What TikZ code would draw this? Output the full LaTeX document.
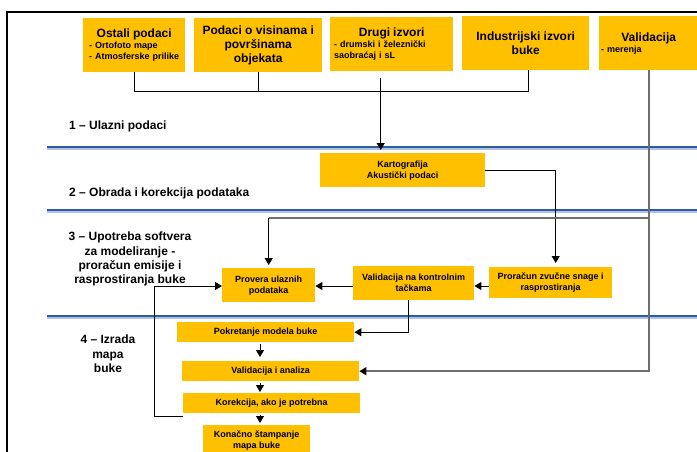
\documentclass[tikz,border=0pt]{standalone}
\usepackage{fontspec}
\setmainfont{Liberation Sans}
\usetikzlibrary{arrows.meta}

\definecolor{boxgold}{RGB}{255,192,0}
\definecolor{bandblue}{RGB}{44,93,164}
\definecolor{bandshade}{RGB}{175,195,225}
\definecolor{linkgray}{RGB}{110,110,110}

\newcommand{\bigtxt}{\fontsize{12}{14.3}\selectfont}
\newcommand{\smalltxt}{\fontsize{9}{11}\selectfont}

\begin{document}
\begin{tikzpicture}[x=1pt, y=-1pt,
  box/.style={fill=boxgold, draw=none, anchor=north west, inner sep=0pt,
              align=center, font=\bfseries\smalltxt},
  bigbox/.style={box, font=\bfseries\bigtxt},
  listbox/.style={box, align=left, text width=#1},
  sect/.style={font=\bfseries\bigtxt, inner sep=0pt},
  link/.style={line width=1pt, black},
  arr/.style={link, -{Triangle[length=7pt,width=8pt]}},
  glink/.style={line width=1.6pt, linkgray},
  garr/.style={glink, -{Triangle[length=7pt,width=8pt,color=black]}}
]
\useasboundingbox (0,0) rectangle (697,452);
\clip (0,0) rectangle (697,452);

% outer frame
\draw[line width=2pt] (7,470) -- (7,12) -- (710,12);

% section separators
\foreach \yy in {147,210,316} {
  \draw[bandshade, line width=4pt] (47,\yy+0.9) -- (697,\yy+0.9);
  \draw[bandblue, line width=2.6pt] (47,\yy) -- (697,\yy);
}

% section titles
\node[sect, anchor=base west] (s1) at (69,130) {1 – Ulazni podaci};
\node[sect, anchor=base west] (s2) at (69,196) {2 – Obrada i korekcija podataka};
\node[sect, anchor=north, align=center] (s3) at (130,232)
  {3 – Upotreba softvera\\za modeliranje -\\proračun emisije i\\rasprostiranja buke};
\node[sect, anchor=north, align=center] (s4) at (108,335) {4 – Izrada\\mapa\\buke};

% input sources
\node[listbox=90pt, minimum width=102pt, minimum height=54pt] (ostali) at (83,18)
  {\makebox[\linewidth]{\bigtxt Ostali podaci}\par
   \mbox{- Ortofoto mape}\par
   \mbox{- Atmosferske prilike}};
\node[bigbox, minimum width=128pt, minimum height=54pt] (podaci) at (194,18)
  {Podaci o visinama i\\površinama\\objekata};
\node[listbox=115pt, minimum width=123pt, minimum height=54pt] (drugi) at (330,17)
  {\makebox[\linewidth]{\bigtxt Drugi izvori}\par
   \mbox{- drumski i železnički}\par
   \mbox{saobraćaj i sL}};
\node[bigbox, minimum width=127pt, minimum height=54pt] (industr) at (462,16)
  {Industrijski izvori\\buke};
\node[listbox=95pt, minimum width=99pt, minimum height=54pt] (valid) at (599,16)
  {\makebox[\linewidth]{\bigtxt Validacija}\par
   \mbox{- merenja}};

% processing
\node[box, minimum width=165pt, minimum height=34pt] (karto) at (320,153)
  {Kartografija\\Akustički podaci};

% modelling
\node[box, minimum width=93pt, minimum height=34pt] (provera) at (222,268)
  {Provera ulaznih\\podataka};
\node[box, minimum width=121pt, minimum height=34pt] (valk) at (353,266)
  {Validacija na kontrolnim\\tačkama};
\node[box, minimum width=123pt, minimum height=31pt] (proracun) at (489,267)
  {Proračun zvučne snage i\\rasprostiranja};

% map production
\node[box, minimum width=177pt, minimum height=20pt] (pokretanje) at (177,322)
  {Pokretanje modela buke};
\node[box, minimum width=177pt, minimum height=20pt] (valan) at (182,361)
  {Validacija i analiza};
\node[box, minimum width=177pt, minimum height=20pt] (korekcija) at (183,393)
  {Korekcija, ako je potrebna};
\node[box, minimum width=107pt, minimum height=30pt] (konacno) at (203,425)
  {Konačno štampanje\\mapa buke};

% helper rows and columns
\coordinate (bus) at (0,92);
\coordinate (tap) at (0,218);
\coordinate (row3) at (0,286);
\coordinate (col) at (260,0);
\coordinate (loopx) at (154,0);

% input bus into processing
\draw[link] (ostali.south) -- (ostali.south |- bus)
  -- ([xshift=3pt]industr.south |- bus) -- ([xshift=3pt]industr.south);
\draw[link] (podaci.south) -- (podaci.south |- bus);
\draw[arr] ([xshift=-11pt,yshift=-7pt]drugi.south)
  -- ([xshift=-11pt,yshift=3pt]drugi.south |- karto.north);

% processing into modelling
\draw[arr] (karto.east) -| ([xshift=5pt,yshift=4pt]proracun.north);
\draw[arr] (proracun.west |- row3) -- (valk.east |- row3);
\draw[arr] (valk.west |- row3) -- (provera.east |- row3);
\draw[arr] ([xshift=-5.5pt]valk.south) |- (pokretanje.east);

% correction loop
\draw[arr] ([yshift=-3pt]korekcija.south west) -| (loopx |- row3)
  -- (provera.west |- row3);

% map production chain
\draw[arr] ([yshift=-2pt]col |- pokretanje.south) -- ([yshift=4pt]col |- valan.north);
\draw[arr] ([yshift=-2pt]col |- valan.south) -- ([yshift=1pt]col |- korekcija.north);
\draw[arr] ([yshift=-2pt]col |- korekcija.south) -- ([yshift=2pt]col |- konacno.north);

% validation measurements
\draw[glink] (valid.south |- tap) -- (provera.north |- tap);
\draw[arr] (provera.north |- tap) -- ([yshift=3pt]provera.north);
\draw[garr] (valid.south) |- (valan.east);
\end{tikzpicture}
\end{document}
